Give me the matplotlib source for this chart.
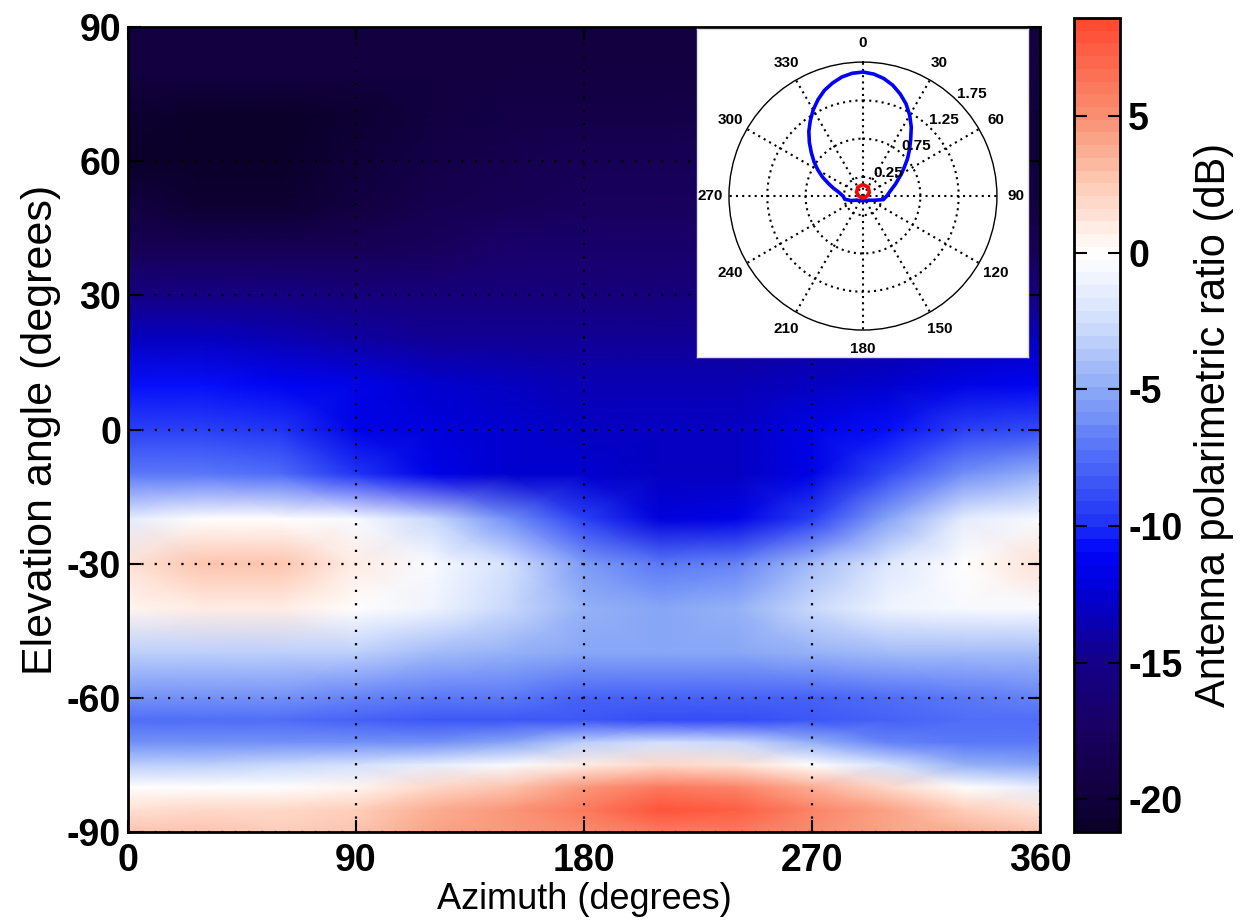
import numpy as np
import matplotlib
matplotlib.use('Agg')
import matplotlib.pyplot as plt
from matplotlib.colors import LinearSegmentedColormap, ListedColormap

plt.rcParams['font.family'] = ['Liberation Sans', 'DejaVu Sans']
plt.rcParams['axes.unicode_minus'] = False

# ---------------- data ----------------
azimuth = [0, 30, 60, 90, 120, 150, 180, 210, 240, 270, 300, 330, 360]
elevation = [90, 80, 70, 60, 50, 40, 30, 20, 10, 0, -10, -20, -30, -40,
             -50, -60, -65, -70, -75, -80, -85, -90]

# polarimetric ratio (dB), one row per elevation, columns = azimuth
ratio_db = [
    [-19.5, -19.5, -19.5, -19.5, -19.5, -19.5, -19.5, -19.5, -19.5, -19.5, -19.5, -19.5, -19.5],  # 90
    [-19.6, -19.8, -19.8, -19.6, -19.5, -19.5, -19.5, -19.5, -19.5, -19.5, -19.5, -19.5, -19.6],  # 80
    [-20.5, -21.0, -21.0, -20.5, -19.5, -19.3, -19.0, -19.0, -18.5, -18.5, -19.0, -19.5, -20.0],  # 70
    [-20.8, -21.0, -21.0, -20.2, -19.0, -18.5, -18.0, -18.0, -18.0, -18.0, -18.5, -19.5, -20.0],  # 60
    [-19.8, -20.3, -20.3, -19.5, -18.5, -18.0, -17.5, -17.5, -17.5, -17.5, -18.0, -18.5, -19.5],  # 50
    [-18.0, -18.3, -18.3, -18.0, -17.5, -17.0, -17.0, -17.0, -17.0, -17.0, -17.5, -17.5, -18.0],  # 40
    [-15.5, -15.5, -15.5, -15.8, -16.0, -16.0, -16.0, -15.8, -15.5, -15.5, -15.5, -15.5, -15.5],  # 30
    [-13.0, -13.0, -13.5, -14.0, -14.5, -14.5, -14.5, -14.5, -14.5, -14.0, -14.0, -13.5, -13.0],  # 20
    [-10.5, -10.5, -11.0, -11.5, -12.5, -13.0, -13.5, -13.5, -13.5, -13.0, -12.5, -11.5, -11.0],  # 10
    [-9.5, -9.5, -10.0, -11.5, -12.0, -12.5, -13.0, -13.2, -13.0, -11.5, -10.5, -9.5, -9.0],      # 0
    [-7.0, -7.0, -7.5, -10.0, -11.5, -12.5, -12.8, -13.0, -13.0, -11.5, -9.0, -6.0, -4.5],        # -10
    [-1.5, 0.0, 0.0, -0.5, -3.0, -6.0, -9.5, -12.0, -11.5, -9.5, -5.0, -1.5, -0.5],               # -20
    [1.5, 3.0, 3.0, 1.0, -0.5, -2.5, -5.5, -7.0, -6.5, -4.0, -2.0, 0.0, 1.5],                     # -30
    [0.5, 1.0, 1.0, 0.0, -1.0, -3.0, -4.5, -5.0, -4.5, -3.0, -1.0, -0.5, -0.5],                   # -40
    [-3.5, -3.5, -3.5, -3.5, -4.0, -4.5, -5.0, -5.3, -5.0, -4.5, -4.0, -4.0, -4.0],               # -50
    [-6.0, -6.0, -6.0, -6.5, -7.0, -7.0, -8.0, -8.0, -8.0, -8.0, -7.5, -7.0, -6.5],               # -60
    [-7.5, -7.5, -7.5, -8.0, -8.5, -8.5, -8.5, -9.0, -9.0, -8.5, -8.0, -7.5, -7.5],               # -65
    [-6.0, -6.0, -6.0, -6.0, -6.0, -5.0, -3.5, -2.5, -3.0, -4.5, -6.5, -7.0, -7.0],               # -70
    [-3.5, -3.5, -3.0, -2.5, -1.5, -0.5, 1.0, 2.0, 1.5, 0.0, -2.5, -4.5, -5.0],                   # -75
    [0.0, 0.0, 0.0, 0.5, 2.0, 3.0, 4.5, 6.0, 5.5, 3.5, 2.0, 0.0, -1.5],                           # -80
    [1.5, 2.0, 2.0, 2.5, 3.5, 4.5, 6.0, 8.0, 7.5, 5.5, 4.0, 2.5, 1.5],                            # -85
    [3.0, 3.0, 2.5, 3.0, 4.0, 4.5, 5.0, 6.0, 6.0, 5.0, 4.0, 3.5, 3.0],                            # -90
]

x_ticks = [0, 90, 180, 270, 360]
y_ticks = [-90, -60, -30, 0, 30, 60, 90]
cbar_ticks = [-20, -15, -10, -5, 0, 5]
vmin, vmax = -21.2, 8.6

# inset polar pattern (compass angles in degrees, radius)
blue_theta = [-180, -150, -135, -120, -110, -100, -90, -80, -75, -70, -65, -60, -55, -50, -45,
              -40, -35, -30, -25, -20, -15, -10, -5, 0, 5, 10, 15, 20, 25, 30, 35, 40, 45,
              50, 55, 60, 70, 80, 90, 100, 110, 120, 135, 150, 180]
blue_r = [0.057, 0.066, 0.08, 0.11, 0.17, 0.24, 0.26, 0.33, 0.40, 0.48, 0.58, 0.68, 0.78, 0.88, 0.99,
          1.10, 1.20, 1.30, 1.39, 1.47, 1.53, 1.58, 1.61, 1.62, 1.60, 1.56, 1.50, 1.42, 1.33, 1.22, 1.10, 0.97, 0.86,
          0.76, 0.66, 0.58, 0.45, 0.36, 0.31, 0.27, 0.16, 0.11, 0.08, 0.066, 0.057]
red_theta = [-180, -150, -120, -90, -60, -30, 0, 30, 60, 90, 120, 150, 180]
red_r = [0.020, 0.022, 0.031, 0.055, 0.096, 0.135, 0.150, 0.135, 0.096, 0.055, 0.031, 0.022, 0.020]
theta_labels = [0, 30, 60, 90, 120, 150, 180, 210, 240, 270, 300, 330]
r_ticks = [0.25, 0.75, 1.25, 1.75]

# ---------------- colormap ----------------
anchors = [
    (-21.2, (10, 0, 42)), (-20.0, (17, 0, 62)), (-17.5, (25, 0, 100)),
    (-15.0, (20, 0, 140)), (-12.5, (0, 0, 212)), (-11.0, (0, 5, 250)),
    (-10.0, (30, 50, 245)), (-7.5, (80, 110, 248)), (-5.0, (138, 168, 246)),
    (-2.5, (208, 222, 253)), (0.0, (255, 255, 255)), (2.5, (254, 208, 188)),
    (5.0, (250, 148, 118)), (8.6, (255, 75, 50)),
]
cm = LinearSegmentedColormap.from_list(
    'polratio', [((v - vmin) / (vmax - vmin), tuple(c / 255 for c in col)) for v, col in anchors])
cmap = ListedColormap(cm(np.linspace(0, 1, 64)))

# ---------------- figure ----------------
fig = plt.figure(figsize=(12.44, 9.22), dpi=100)
ax = fig.add_axes([0.1029, 0.0976, 0.7331, 0.8731])
mesh = ax.pcolormesh(azimuth, elevation, np.array(ratio_db), shading='gouraud',
                     cmap=cmap, vmin=vmin, vmax=vmax)
ax.set_xlim(0, 360)
ax.set_ylim(-90, 90)
ax.set_xticks(x_ticks)
ax.set_yticks(y_ticks)
ax.set_axisbelow(False)
ax.grid(True, color='k', linestyle=(0, (1, 5)), linewidth=1.6)
ax.tick_params(direction='in', length=9, width=1.5, top=True, right=True,
               labelsize=27, pad=5)
ax.tick_params(axis='x', pad=8)
for lab in ax.get_xticklabels() + ax.get_yticklabels():
    lab.set_fontweight('bold')
for s in ax.spines.values():
    s.set_linewidth(2)
ax.set_xlabel('Azimuth (degrees)', fontsize=26, labelpad=2)
ax.set_ylabel('Elevation angle (degrees)', fontsize=31, labelpad=4)

# colorbar
cax = fig.add_axes([0.8633, 0.0976, 0.037, 0.8829])
cb = fig.colorbar(mesh, cax=cax, ticks=cbar_ticks)
cb.outline.set_linewidth(2)
cax.tick_params(direction='in', length=9, width=1.5, left=True, right=True,
                labelsize=27, pad=6)
for lab in cax.get_yticklabels():
    lab.set_fontweight('bold')
cb.set_label('Antenna polarimetric ratio (dB)', fontsize=30, labelpad=8)

# inset white box
box = fig.add_axes([0.5603, 0.6128, 0.2661, 0.3557])
box.set_xticks([])
box.set_yticks([])
box.set_facecolor('white')
for s in box.spines.values():
    s.set_color('#dddddd')
    s.set_linewidth(1)

# inset polar plot
pax = fig.add_axes([0.586, 0.642, 0.2154, 0.2907], projection='polar')
pax.set_theta_zero_location('N')
pax.set_theta_direction(-1)
pax.set_ylim(0, 1.75)
pax.set_thetagrids(theta_labels, labels=[''] * len(theta_labels))
pax.set_rgrids(r_ticks[:-1], labels=[''] * 3)
pax.grid(True, color='k', linestyle=(0, (1, 2.0)), linewidth=1.5)
pax.spines['polar'].set_linewidth(1.0)
pax.plot(np.deg2rad(blue_theta), blue_r, color=(0, 0, 1), lw=2.6)
pax.plot(np.deg2rad(red_theta), red_r, color=(1, 0, 0), lw=2.6)
for t in theta_labels:
    pax.text(np.deg2rad(t), 2.0, str(t), ha='center', va='center',
             fontsize=11, fontweight='bold', clip_on=False)
for r in r_ticks:
    pax.text(np.deg2rad(47), r + 0.2, f'{r:g}', ha='center', va='center',
             fontsize=11, fontweight='bold', clip_on=False)

fig.savefig('out.png', dpi=100)
